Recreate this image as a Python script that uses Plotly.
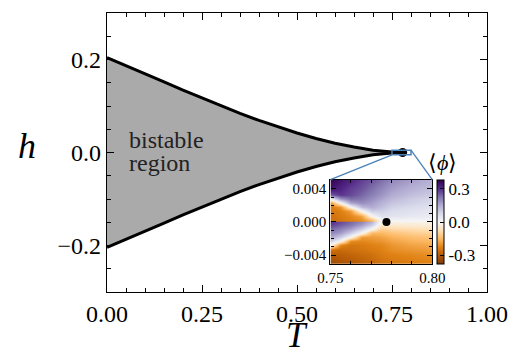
import plotly.graph_objects as go

# ---------------- data ----------------
T_curve = [0.0, 0.05, 0.10, 0.15, 0.20, 0.25, 0.30, 0.35, 0.40, 0.45, 0.50, 0.55, 0.60, 0.65, 0.70, 0.75, 0.778]
h_upper = [0.204, 0.187, 0.169, 0.152, 0.134, 0.117, 0.100, 0.084, 0.069, 0.055, 0.042, 0.030, 0.020, 0.012, 0.005, 0.001, 0.0]
h_lower = [-0.204, -0.187, -0.169, -0.152, -0.134, -0.117, -0.100, -0.084, -0.069, -0.055, -0.042, -0.030, -0.020, -0.012, -0.005, -0.001, 0.0]

T_crit = [0.778]
h_crit = [0.0]

inset_T = [0.75, 0.755, 0.76, 0.765, 0.77, 0.775, 0.78, 0.79, 0.80]
inset_h = [0.0051, 0.004, 0.0033, 0.0028, 0.0023, 0.0018, 0.0013, 0.0008, 0.0003, 0.00003,
           -0.00003, -0.0003, -0.0008, -0.0013, -0.0018, -0.0023, -0.0028, -0.0033, -0.004, -0.0051]
inset_phi = [
    [0.37, 0.34, 0.31, 0.28, 0.26, 0.23, 0.20, 0.17, 0.14],        # 0.0051
    [0.34, 0.31, 0.28, 0.26, 0.23, 0.20, 0.17, 0.14, 0.12],        # 0.004
    [0.25, 0.29, 0.27, 0.24, 0.21, 0.18, 0.15, 0.12, 0.10],        # 0.0033
    [0.02, 0.18, 0.23, 0.22, 0.19, 0.16, 0.13, 0.10, 0.08],        # 0.0028
    [-0.20, 0.00, 0.16, 0.19, 0.17, 0.14, 0.11, 0.09, 0.07],       # 0.0023
    [-0.24, -0.20, 0.00, 0.13, 0.15, 0.12, 0.09, 0.07, 0.055],     # 0.0018
    [-0.25, -0.23, -0.19, 0.00, 0.10, 0.09, 0.07, 0.055, 0.045],   # 0.0013
    [-0.26, -0.24, -0.22, -0.18, 0.00, 0.06, 0.05, 0.04, 0.03],    # 0.0008
    [-0.26, -0.25, -0.23, -0.21, -0.14, 0.01, 0.01, 0.01, 0.01],   # 0.0003
    [-0.27, -0.25, -0.24, -0.22, -0.17, -0.02, -0.01, -0.005, -0.005],  # 0.00003
    [0.30, 0.27, 0.24, 0.20, 0.14, -0.02, -0.02, -0.02, -0.02],    # -0.00003
    [0.28, 0.25, 0.22, 0.17, 0.10, -0.05, -0.045, -0.04, -0.035],  # -0.0003
    [0.24, 0.21, 0.17, 0.10, 0.00, -0.11, -0.09, -0.08, -0.07],    # -0.0008
    [0.20, 0.17, 0.10, 0.00, -0.15, -0.15, -0.13, -0.11, -0.10],   # -0.0013
    [0.16, 0.10, 0.00, -0.19, -0.19, -0.18, -0.16, -0.14, -0.13],  # -0.0018
    [0.10, 0.00, -0.21, -0.22, -0.21, -0.20, -0.18, -0.16, -0.15], # -0.0023
    [0.00, -0.22, -0.25, -0.24, -0.23, -0.22, -0.20, -0.18, -0.17],# -0.0028
    [-0.26, -0.27, -0.26, -0.25, -0.24, -0.23, -0.21, -0.20, -0.19],# -0.0033
    [-0.30, -0.29, -0.28, -0.27, -0.26, -0.24, -0.23, -0.22, -0.21],# -0.004
    [-0.34, -0.32, -0.31, -0.29, -0.28, -0.26, -0.25, -0.24, -0.23],# -0.0051
]
inset_crit_T = [0.7775]
inset_crit_h = [0.0]

zoom_box_T = [0.75, 0.80]
zoom_box_h = [-0.005, 0.005]

main_xticks = [0.0, 0.25, 0.5, 0.75, 1.0]
main_xticklabels = ["0.00", "0.25", "0.50", "0.75", "1.00"]
main_yticks = [-0.2, 0.0, 0.2]
main_yticklabels = ["\u22120.2", "0.0", "0.2"]
inset_xticks = [0.75, 0.80]
inset_xticklabels = ["0.75", "0.80"]
inset_yticks = [-0.004, 0.0, 0.004]
inset_yticklabels = ["\u22120.004", "0.000", "0.004"]
cbar_ticks = [-0.3, 0.0, 0.3]
cbar_ticklabels = ["-0.3", "0.0", "0.3"]

# ---------------- style ----------------
FONT = "Liberation Serif"
BLUE = "#4a80b8"
puor = ['rgb(127,59,8)', 'rgb(179,88,6)', 'rgb(224,130,20)', 'rgb(253,184,99)',
        'rgb(254,224,182)', 'rgb(247,247,247)', 'rgb(216,218,235)', 'rgb(178,171,210)',
        'rgb(128,115,172)', 'rgb(84,39,136)', 'rgb(45,0,75)']
cscale = [[i / (len(puor) - 1), c] for i, c in enumerate(puor)]

X_RANGE = [0.0, 1.0]
Y_RANGE = [-0.3, 0.3]
INSET_X = [0.588, 0.856]
INSET_Y = [0.10, 0.4025]

fig = go.Figure()

fig.add_trace(go.Scatter(
    x=T_curve + T_curve[::-1], y=h_upper + h_lower[::-1],
    fill="toself", fillcolor="#aaaaaa", mode="none", hoverinfo="skip", showlegend=False))
fig.add_trace(go.Scatter(x=T_curve, y=h_upper, mode="lines",
                         line=dict(color="black", width=3), showlegend=False))
fig.add_trace(go.Scatter(x=T_curve, y=h_lower, mode="lines",
                         line=dict(color="black", width=3), showlegend=False))
fig.add_trace(go.Scatter(x=T_crit, y=h_crit, mode="markers",
                         marker=dict(color="black", size=9), showlegend=False))

fig.add_trace(go.Heatmap(
    x=inset_T, y=inset_h, z=inset_phi, xaxis="x2", yaxis="y2",
    zsmooth="best", colorscale=cscale, zmin=-0.38, zmax=0.38,
    colorbar=dict(
        x=(440 - 107) / 383, xanchor="left", y=INSET_Y[0], yanchor="bottom",
        len=INSET_Y[1] - INSET_Y[0], lenmode="fraction",
        thickness=7, thicknessmode="pixels", xpad=0, ypad=0,
        outlinewidth=1, outlinecolor="black",
        ticks="inside", ticklen=4, tickcolor="black",
        tickvals=cbar_ticks, ticktext=cbar_ticklabels,
        tickfont=dict(family=FONT, size=17, color="black"),
    ),
))
fig.add_trace(go.Scatter(x=inset_crit_T, y=inset_crit_h, mode="markers", xaxis="x2", yaxis="y2",
                         marker=dict(color="black", size=8), showlegend=False))

fig.add_shape(type="rect", xref="x", yref="y",
              x0=zoom_box_T[0], x1=zoom_box_T[1], y0=zoom_box_h[0], y1=zoom_box_h[1],
              line=dict(color=BLUE, width=1.5))
inset_top_main = Y_RANGE[0] + INSET_Y[1] * (Y_RANGE[1] - Y_RANGE[0])
fig.add_shape(type="line", xref="x", yref="y",
              x0=zoom_box_T[0], y0=zoom_box_h[0],
              x1=X_RANGE[0] + INSET_X[0] * (X_RANGE[1] - X_RANGE[0]), y1=inset_top_main,
              line=dict(color=BLUE, width=1.3))
fig.add_shape(type="line", xref="x", yref="y",
              x0=zoom_box_T[1], y0=zoom_box_h[1],
              x1=X_RANGE[0] + INSET_X[1] * (X_RANGE[1] - X_RANGE[0]), y1=inset_top_main,
              line=dict(color=BLUE, width=1.3))

axis_common = dict(showgrid=False, zeroline=False, showline=True, linecolor="black",
                   mirror="allticks", ticks="inside", tickcolor="black")

fig.update_layout(
    width=520, height=352,
    margin=dict(l=107, r=30, t=12, b=60),
    paper_bgcolor="white", plot_bgcolor="white",
    showlegend=False,
    font=dict(family=FONT, color="black"),
    xaxis=dict(range=X_RANGE, tickvals=main_xticks, ticktext=main_xticklabels,
               ticklen=7, linewidth=1.3, tickwidth=1.2,
               minor=dict(ticks="inside", ticklen=4, dtick=0.05, tick0=0, tickcolor="black", showgrid=False),
               tickfont=dict(family=FONT, size=24), **axis_common),
    yaxis=dict(range=Y_RANGE, tickvals=main_yticks, ticktext=main_yticklabels,
               ticklen=7, linewidth=1.3, tickwidth=1.2,
               minor=dict(ticks="inside", ticklen=4, dtick=0.05, tick0=0, tickcolor="black", showgrid=False),
               tickfont=dict(family=FONT, size=24), **axis_common),
    xaxis2=dict(domain=INSET_X, anchor="y2", range=[0.75, 0.80],
                tickvals=inset_xticks, ticktext=inset_xticklabels,
                ticklen=5, linewidth=1.2,
                minor=dict(ticks="inside", ticklen=3, dtick=0.01, tick0=0.75, tickcolor="black", showgrid=False),
                tickfont=dict(family=FONT, size=15), **axis_common),
    yaxis2=dict(domain=INSET_Y, anchor="x2", range=[-0.0051, 0.0051],
                tickvals=inset_yticks, ticktext=inset_yticklabels,
                ticklen=5, linewidth=1.2,
                minor=dict(ticks="inside", ticklen=3, dtick=0.001, tick0=0, tickcolor="black", showgrid=False),
                tickfont=dict(family=FONT, size=15), **axis_common),
)

annotations = [
    dict(text="<i>T</i>", xref="paper", yref="paper", x=(298 - 107) / 383, y=(292 - 336) / 280,
         xanchor="center", yanchor="middle", showarrow=False, font=dict(family=FONT, size=35)),
    dict(text="<i>h</i>", xref="paper", yref="paper", x=(26 - 107) / 383, y=(292 - 145) / 280,
         xanchor="center", yanchor="middle", showarrow=False, font=dict(family=FONT, size=36)),
    dict(text="bistable", xref="x", yref="y", x=0.052, y=0.026,
         xanchor="left", yanchor="middle", showarrow=False, font=dict(family=FONT, size=24, color="#222222")),
    dict(text="region", xref="x", yref="y", x=0.052, y=-0.023,
         xanchor="left", yanchor="middle", showarrow=False, font=dict(family=FONT, size=24, color="#222222")),
    dict(text="\u27e8<i>\u03d5</i>\u27e9", xref="paper", yref="paper", x=(445 - 107) / 383, y=(292 - 162) / 280,
         xanchor="center", yanchor="middle", showarrow=False, font=dict(family=FONT, size=22)),
]
fig.update_layout(annotations=annotations)

fig.write_html("out.html", config={"displayModeBar": False},
               post_script="document.body.style.margin='0';document.body.style.padding='0';")
